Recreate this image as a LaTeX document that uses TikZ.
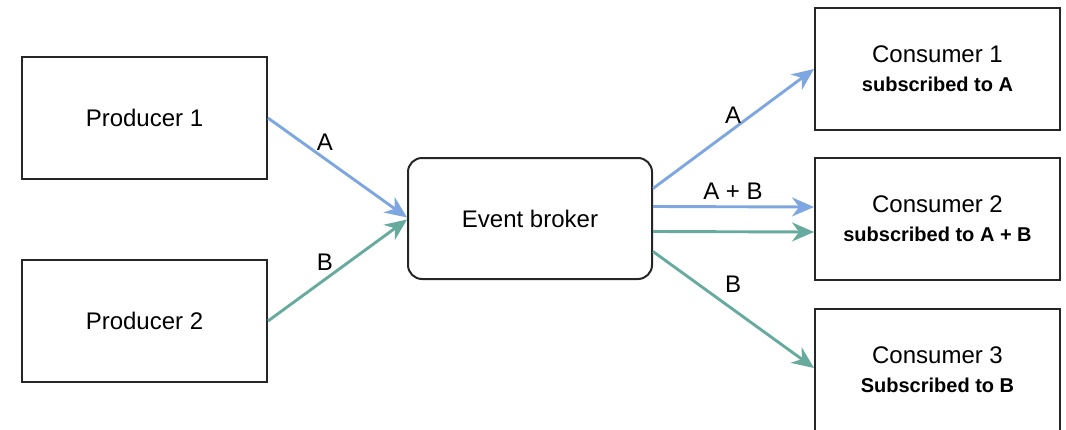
\documentclass[tikz,border=0pt]{standalone}
\usepackage{fontspec}
\setmainfont{Liberation Sans}
\usetikzlibrary{arrows.meta,calc}
\definecolor{flowA}{HTML}{7EA6E0}
\definecolor{flowB}{HTML}{67AB9F}
\newcommand\subline[1]{{\fontsize{10}{12}\selectfont\bfseries #1}}
\tikzset{
  box/.style={draw=black!85, line width=1pt, minimum width=122.5pt, minimum height=61pt, inner sep=0pt, align=center, font=\fontsize{12}{14.5}\selectfont},
  brokerbox/.style={box, rounded corners=7pt},
  flow/.style={line width=1.45pt, -{Stealth[length=11pt,width=9.5pt,inset=3.5pt]}},
  lbl/.style={font=\fontsize{12}{14}\selectfont, inner sep=0pt}
}
\begin{document}
\begin{tikzpicture}[x=0.5pt,y=-0.5pt]
\useasboundingbox (0,0) rectangle (1066,429);
% producers
\node[box] (p1) at (144.5,118) {Producer 1};
\node[box] (p2) at (144.5,321) {Producer 2};
% broker
\node[brokerbox, minimum width=122pt, minimum height=60.5pt] (broker) at (530,218.5) {Event broker};
% consumers
\node[box] (c1) at (937.5,69) {Consumer 1\\[0pt]\subline{subscribed to A}};
\node[box] (c2) at (937.5,219) {Consumer 2\\[0pt]\subline{subscribed to A + B}};
\node[box] (c3) at (937.5,370) {Consumer 3\\[0pt]\subline{Subscribed to B}};
% incoming flows
\draw[flow, flowA] (p1.east) -- ($(broker.west)+(0,-1)$);
\draw[flow, flowB] (p2.east) -- ($(broker.west)+(0,1)$);
% outgoing flows
\draw[flow, flowA] ($(broker.east)+(0,-30)$) -- (c1.west);
\draw[flow, flowA] ($(broker.east)+(0,-12)$) -- ($(c2.west)+(0,-12)$);
\draw[flow, flowB] ($(broker.east)+(0,13)$) -- ($(c2.west)+(0,13)$);
\draw[flow, flowB] ($(broker.east)+(0,33)$) -- ($(c3.west)+(0,-2)$);
% flow labels
\node[lbl] (la1) at (325,142) {A};
\node[lbl] (lb1) at (325,262) {B};
\node[lbl] (la2) at (733,115) {A};
\node[lbl] (lab) at (733,191) {A + B};
\node[lbl] (lb2) at (733,284) {B};
\end{tikzpicture}
\end{document}
